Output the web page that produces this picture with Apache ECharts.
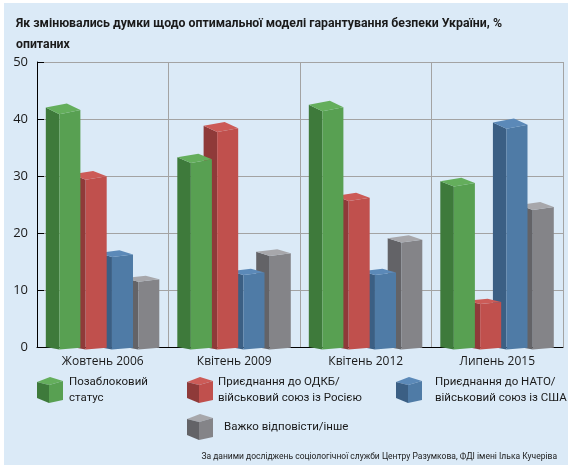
<!DOCTYPE html>
<html>
<head>
<meta charset="utf-8">
<script src="https://cdn.jsdelivr.net/npm/echarts@6/dist/echarts.min.js"></script>
<style>
  html, body { margin: 0; padding: 0; background: #fff; }
  #chart { width: 568px; height: 465px; }
</style>
</head>
<body>
<div id="chart"></div>
<script>
// опитування Центру Разумкова, % опитаних
var periods = ['Жовтень 2006', 'Квітень 2009', 'Квітень 2012', 'Липень 2015'];
var nonBloc = [42, 33.3, 42.5, 29.1];
var csto = [30.3, 38.8, 26.5, 8.1];
var nato = [16.5, 13.3, 13.3, 39.4];
var hardToSay = [12.1, 16.7, 19.1, 24.9];
var yTicks = [0, 10, 20, 30, 40, 50];

var names = ['Позаблоковий\nстатус', 'Приєднання до ОДКБ/\nвійськовий союз із Росією',
  'Приєднання до НАТО/\nвійськовий союз із США', 'Важко відповісти/інше'];
var values = [nonBloc, csto, nato, hardToSay];
// front, side, top
var shades = [
  ['#58a052', '#3e7a3b', '#64ae5c'],
  ['#c0504d', '#8f3a39', '#cc5b57'],
  ['#4f7ba6', '#3b5f84', '#5b89b8'],
  ['#848488', '#636367', '#a7a7ab']
];

function cubeIcon(c) {
  var svg = '<svg xmlns="http://www.w3.org/2000/svg" width="26" height="26" viewBox="0 0 26 26">' +
    '<polygon points="0,5 13,0 26,4 12,8" fill="' + c[2] + '"/>' +
    '<polygon points="0,5 12,8 12,26 0,21" fill="' + c[1] + '"/>' +
    '<polygon points="12,8 26,4 26,23 12,26" fill="' + c[0] + '"/>' +
    '</svg>';
  return 'image://data:image/svg+xml;charset=utf-8,' + encodeURIComponent(svg);
}

function bar3d(s) {
  return function (params, api) {
    var i = api.value(0);
    var base = api.coord([i, 0]);
    var top = api.coord([i, api.value(1)]);
    var bw = api.size([1, 0])[0];
    var fw = bw * 0.16, dx = bw * 0.103;
    var x0 = base[0] - bw * 0.33 + bw * 0.2 * s;
    var yb = base[1], h = base[1] - top[1];
    function P(xo, depth, hh) {
      var dy = 2.5 + 0.017 * hh;
      var t = 1.7 + 0.0098 * hh;
      return [x0 + xo - dx * depth, yb - hh + (1 - depth) * dy - (xo / fw) * t];
    }
    var c = shades[s];
    return {
      type: 'group',
      children: [
        { type: 'polygon', shape: { points: [P(0, 1, 0), P(0, 0, 0), P(0, 0, h), P(0, 1, h)] }, style: { fill: c[1] } },
        { type: 'polygon', shape: { points: [P(0, 0, 0), P(fw, 0, 0), P(fw, 0, h), P(0, 0, h)] }, style: { fill: c[0] } },
        { type: 'polygon', shape: { points: [P(0, 1, h), P(fw, 1, h), P(fw, 0, h), P(0, 0, h)] }, style: { fill: c[2] } }
      ]
    };
  };
}

var series = [];
for (var s = 0; s < 4; s++) {
  series.push({
    name: names[s],
    type: 'custom',
    z: 10 - s,
    renderItem: bar3d(s),
    encode: { x: 0, y: 1 },
    data: values[s].map(function (v, i) { return [i, v]; })
  });
}

var legendFont = { fontFamily: 'Roboto', fontSize: 11.5, color: '#1a1a1a', lineHeight: 16 };
function legendAt(s, left, top, gap) {
  return {
    left: left, top: top, padding: 0, selectedMode: false,
    itemWidth: 26, itemHeight: 26,
    data: [{ name: names[s], icon: cubeIcon(shades[s]) }],
    textStyle: Object.assign({ padding: [0, 0, 0, gap] }, legendFont)
  };
}

var chart = echarts.init(document.getElementById('chart'));
chart.setOption({
  backgroundColor: '#fff',
  animation: false,
  title: [{
    text: 'Як змінювались думки щодо оптимальної моделі гарантування безпеки України, %\nопитаних',
    left: 11, top: 8,
    textStyle: { fontFamily: 'Roboto', fontWeight: 'bold', fontSize: 12.3, lineHeight: 21, color: '#1a1a1a' }
  }, {
    text: 'За даними досліджень соціологічної служби Центру Разумкова, ФДІ імені Ілька Кучеріва',
    right: 6, top: 447,
    textStyle: { fontFamily: 'Roboto', fontWeight: 'normal', fontSize: 8.5, color: '#1a1a1a' }
  }],
  graphic: [{
    type: 'rect', z: -10, silent: true,
    shape: { x: 4, y: 3, width: 564, height: 462 },
    style: { fill: '#dbeaf7' }
  }],
  legend: [
    legendAt(0, 37, 374, 1),
    legendAt(1, 187, 374, 0),
    legendAt(2, 396, 374, 8),
    legendAt(3, 187, 414, 6)
  ],
  grid: { left: 37, right: 5, top: 62, bottom: 118 },
  xAxis: {
    type: 'category',
    data: periods,
    boundaryGap: true,
    axisLine: { lineStyle: { color: '#000', width: 1 } },
    axisTick: { inside: true, length: 6, lineStyle: { color: '#000' } },
    axisLabel: { margin: 9, fontFamily: 'Open Sans', fontSize: 12, color: '#1a1a1a' },
    splitLine: { show: true, lineStyle: { color: '#a3a3a3', width: 1 } }
  },
  yAxis: {
    type: 'value',
    min: yTicks[0], max: yTicks[yTicks.length - 1], interval: 10,
    axisLine: { show: true, lineStyle: { color: '#000', width: 1 } },
    axisTick: { show: true, inside: true, length: 7, lineStyle: { color: '#000' } },
    axisLabel: { margin: 9, fontFamily: 'Open Sans', fontSize: 13, color: '#1a1a1a' },
    splitLine: { lineStyle: { color: '#a3a3a3', width: 1 } }
  },
  series: series
});
</script>
</body>
</html>
